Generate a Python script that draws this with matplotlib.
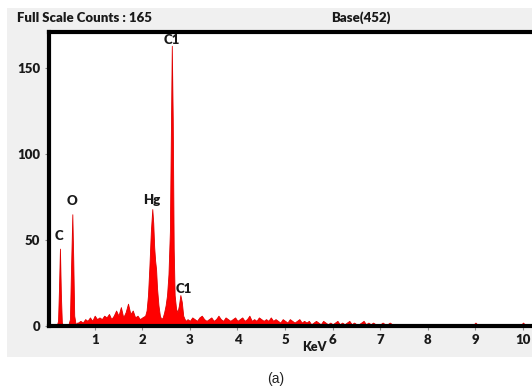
import numpy as np
import matplotlib
matplotlib.use("Agg")
import matplotlib.pyplot as plt
from matplotlib.patches import Rectangle

# EDS spectrum (keV, counts)
kev_low = [0.05, 0.20, 0.23, 0.25, 0.27, 0.29, 0.31, 0.34, 0.44, 0.48, 0.50, 0.53, 0.55, 0.57, 0.60, 0.63]
cnt_low = [0, 0, 3, 22, 45, 18, 2, 0, 0, 4, 30, 65, 38, 6, 1, 2]

# noise between O and Hg, 0.05 keV channels from 0.65
cnt_mid = [2, 3, 2, 4, 3, 5, 3, 6, 4, 5, 4, 6, 5, 7, 4, 6, 9, 6, 11, 5, 8, 13, 7, 9, 5, 6, 4, 5]

kev_peaks = [2.06, 2.09, 2.12, 2.15, 2.18, 2.21, 2.23, 2.25, 2.27, 2.29, 2.31, 2.34, 2.37, 2.40,
             2.43, 2.46, 2.49, 2.52, 2.55, 2.58, 2.60, 2.62, 2.64, 2.66, 2.68, 2.71, 2.74, 2.77,
             2.80, 2.83, 2.86, 2.89, 2.92]
cnt_peaks = [6, 9, 18, 35, 55, 68, 60, 46, 38, 33, 22, 12, 6, 4,
             5, 8, 12, 18, 30, 55, 110, 163, 120, 45, 18, 10, 8, 12,
             18, 14, 6, 4, 3]

# background after C1, 0.05 keV channels from 2.95
cnt_bg = [4, 3, 5, 4, 3, 5, 6, 4, 3, 4, 5, 3, 4, 6, 4, 3, 5, 4, 3, 4, 5,
          3, 4, 5, 3, 4, 6, 3, 4, 3, 5, 4, 3, 4, 3, 5, 3, 4, 3, 2, 4,
          3, 2, 4, 3, 2, 3, 4, 2, 3, 2, 3, 1, 2, 3, 2, 1, 3, 2, 1, 2,
          1, 2, 3, 1, 2, 1, 2, 3, 1, 2, 1, 1, 2, 3, 1, 2, 1, 2, 1, 1,
          1, 2, 1, 1, 2, 1, 1, 0.5, 1, 0.5, 0.5, 0.5]

kev_tail = [7.65, 7.8, 8.0, 8.2, 8.5, 8.8, 8.95, 9.0, 9.05, 9.3, 9.6, 9.95, 10.0, 10.05, 10.3]
cnt_tail = [0.5, 0.5, 0.6, 0.4, 0.5, 0.5, 0.5, 2, 0.5, 0.5, 0.4, 0.5, 2, 0.5, 0.4]

peak_labels = ["C", "O", "Hg", "C1", "C1"]
peak_kev = [0.25, 0.53, 2.20, 2.62, 2.87]
peak_cnt = [49, 69, 70, 163, 18]

kev_mid = 0.65 + 0.05 * np.arange(len(cnt_mid))
kev_bg = 2.95 + 0.05 * np.arange(len(cnt_bg))
kev = np.concatenate([kev_low, kev_mid, kev_peaks, kev_bg, kev_tail])
cnt = np.concatenate([cnt_low, cnt_mid, cnt_peaks, cnt_bg, cnt_tail])

W, H = 532, 389
fig = plt.figure(figsize=(W / 100, H / 100), dpi=100)
fig.patch.set_facecolor("white")
fig.patches.append(Rectangle((7 / W, 1 - 357 / H), 1, (357 - 8) / H,
                             transform=fig.transFigure, facecolor="#f0f0f0",
                             edgecolor="none", zorder=-5))

ax = fig.add_axes([49 / W, 1 - 326 / H, 1 - 49 / W + 0.01, (326 - 32) / H])
ax.set_zorder(2)
ax.set_facecolor("white")
ax.fill_between(kev, 0, cnt, color="#ff0000", linewidth=0.6, edgecolor="#e00000")
ax.set_xlim(0.04, 10.3)
ax.set_ylim(0, 171)

for s in ["top", "left", "bottom"]:
    ax.spines[s].set_linewidth(3)
    ax.spines[s].set_color("black")
ax.spines["right"].set_visible(False)

bold = dict(family="Lato", weight="heavy")
ax.set_xticks(range(1, 11))
ax.set_yticks([0, 50, 100, 150])
ax.tick_params(axis="both", length=3, width=0.8, color="#888888", labelcolor="#1a1a1a",
               labelsize=9.5)
ax.tick_params(axis="x", pad=3)
for lab in ax.get_xticklabels() + ax.get_yticklabels():
    lab.set_fontfamily("Lato")
    lab.set_fontweight("heavy")

for name, x, y in zip(peak_labels, peak_kev, peak_cnt):
    ax.text(x, y, name, ha="center", va="bottom", fontsize=9.5, color="#1a1a1a", **bold)

fig.text(17 / W, 1 - 18 / H, "Full Scale Counts : 165", ha="left", va="center",
         fontsize=9.5, color="#1a1a1a", **bold)
fig.text(361 / W, 1 - 18 / H, "Base(452)", ha="center", va="center",
         fontsize=9.5, color="#1a1a1a", **bold)
fig.text(327 / W, 1 - 347 / H, "KeV", ha="right", va="center",
         fontsize=9, color="#1a1a1a", **bold)
fig.text(276 / W, 1 - 379 / H, "(a)", ha="center", va="center",
         fontsize=10, color="#222222", family="Liberation Sans")

fig.savefig("out.png", dpi=100)
